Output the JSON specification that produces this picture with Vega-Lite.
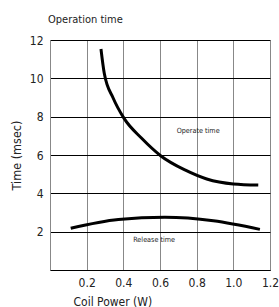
{
  "$schema": "https://vega.github.io/schema/vega-lite/v6.json",
  "width": 220,
  "height": 230,
  "autosize": "none",
  "padding": {"left": 50, "top": 40, "right": 9, "bottom": 37},
  "background": "white",
  "config": {
    "view": {"stroke": null},
    "font": "DejaVu Sans Condensed, Liberation Sans, sans-serif",
    "axis": {"labelFont": "DejaVu Sans Condensed, Liberation Sans, sans-serif", "titleFont": "DejaVu Sans Condensed, Liberation Sans, sans-serif", "labelColor": "#222", "titleColor": "#222", "titleFontWeight": "normal", "labelOverlap": false}
  },
  "title": {"text": "Operation time", "anchor": "start", "frame": "group", "fontSize": 11, "fontWeight": "normal", "font": "DejaVu Sans Condensed, Liberation Sans, sans-serif", "color": "#222", "offset": 9, "dx": -2},
  "datasets": {
    "curves": [
      {"series": "Operate", "power": 0.278, "time": 11.53},
      {"series": "Operate", "power": 0.296, "time": 10.26},
      {"series": "Operate", "power": 0.345, "time": 8.96},
      {"series": "Operate", "power": 0.404, "time": 7.91},
      {"series": "Operate", "power": 0.5, "time": 6.87},
      {"series": "Operate", "power": 0.605, "time": 5.95},
      {"series": "Operate", "power": 0.736, "time": 5.22},
      {"series": "Operate", "power": 0.855, "time": 4.75},
      {"series": "Operate", "power": 1.0, "time": 4.49},
      {"series": "Operate", "power": 1.136, "time": 4.43},
      {"series": "Release", "power": 0.113, "time": 2.18},
      {"series": "Release", "power": 0.373, "time": 2.64},
      {"series": "Release", "power": 0.627, "time": 2.75},
      {"series": "Release", "power": 0.891, "time": 2.57},
      {"series": "Release", "power": 1.145, "time": 2.12}
    ],
    "labels": [
      {"text": "Operate time", "power": 0.808, "time": 7.27},
      {"text": "Release time", "power": 0.568, "time": 1.57}
    ]
  },
  "encoding": {
    "x": {"field": "power", "type": "quantitative", "scale": {"domain": [0, 1.2], "nice": false},
      "axis": {"title": "Coil Power (W)", "titleFontSize": 12, "titleAnchor": "start", "titleX": 23, "titlePadding": 8, "values": [0, 0.2, 0.4, 0.6, 0.8, 1.0, 1.2], "format": ".1f", "labelExpr": "datum.value == 0 ? '' : datum.label", "labelFontSize": 12, "labelPadding": 7, "ticks": false, "grid": true, "gridColor": "#888", "gridOpacity": 1, "domainColor": "black", "labelFlush": false}},
    "y": {"field": "time", "type": "quantitative", "scale": {"domain": [0, 12], "nice": false},
      "axis": {"title": "Time (msec)", "titleFontSize": 12.5, "titlePadding": 6, "values": [0, 2, 4, 6, 8, 10, 12], "labelExpr": "datum.value == 0 ? '' : datum.label", "labelFontSize": 12, "labelPadding": 7, "ticks": false, "grid": true, "gridColor": "black", "gridOpacity": 1, "domainColor": "#888", "labelFlush": false}}
  },
  "layer": [
    {
      "data": {"name": "curves"},
      "mark": {"type": "line", "color": "black", "strokeWidth": 3, "interpolate": "monotone"},
      "encoding": {"detail": {"field": "series"}}
    },
    {
      "data": {"name": "labels"},
      "mark": {"type": "text", "fontSize": 7.2, "font": "DejaVu Sans Condensed, Liberation Sans, sans-serif", "color": "#222"},
      "encoding": {"text": {"field": "text"}}
    }
  ]
}
